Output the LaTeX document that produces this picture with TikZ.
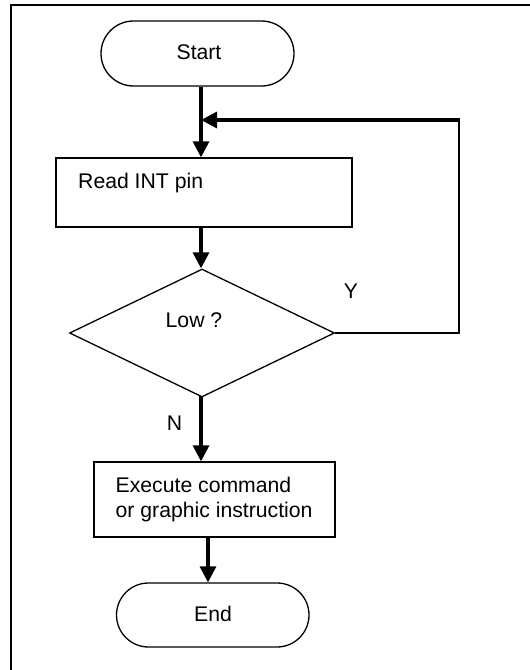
\documentclass[tikz,border=0pt]{standalone}
\usepackage{fontspec}
\setmainfont{Liberation Sans}
\usetikzlibrary{arrows.meta,shapes.geometric}

\begin{document}
\begin{tikzpicture}[x=1pt,y=-1pt,
  every node/.style={inner sep=0pt},
  boxline/.style={draw,line width=1.3pt},
  terminal/.style={boxline,rectangle},
  process/.style={boxline,rectangle},
  decision/.style={boxline,diamond},
  txt/.style={font=\fontsize{21.2}{24.7}\selectfont},
  flow/.style={line width=3.2pt,-{Triangle[width=16pt,length=16pt]}},
  thinline/.style={line width=1.4pt}]

\useasboundingbox (0,0) rectangle (530,670);

% page frame: left edge and top edge only
\draw[line width=2pt] (11,670) -- (11,5) -- (530,5);

% shapes
\node[terminal,minimum width=193pt,minimum height=65pt,rounded corners=32.5pt] (start) at (197.5,53.5) {};
\node[process,minimum width=296pt,minimum height=69pt] (read) at (204,192.5) {};
\node[decision,minimum width=265pt,minimum height=128pt] (dec) at (202,333) {};
\node[process,minimum width=241pt,minimum height=75pt] (exec) at (214.5,499.5) {};
\node[terminal,minimum width=192.5pt,minimum height=64pt,rounded corners=32pt] (end) at (212.75,615) {};

% texts
\node[txt,anchor=base] (starttxt) at (199,59) {Start};
\node[txt,anchor=base west] (readtxt) at (78,188) {Read INT pin};
\node[txt,anchor=base west] (lowtxt) at (165.5,327) {Low ?};
\node[txt,anchor=base] (ytxt) at (351,298) {Y};
\node[txt,anchor=base] (ntxt) at (174.5,430) {N};
\node[txt,anchor=base west] (exectxt1) at (115.5,492.3) {Execute command};
\node[txt,anchor=base west] (exectxt2) at (115.5,517) {or graphic instruction};
\node[txt,anchor=base] (endtxt) at (213,621) {End};

% guide coordinates for the vertical flow lines
\coordinate (spine) at (201,0);
\coordinate (spine2) at (208,0);
\coordinate (loopc) at (459,120);

% connectors
\draw[flow] (start.south -| spine) -- (read.north -| spine);
\draw[flow] (read.south -| spine) -- (dec.north -| spine);
\draw[flow] ([yshift=2pt]dec.south -| spine) -- (exec.north -| spine);
\draw[flow] (exec.south -| spine2) -- (end.north -| spine2);

% "Y" branch looping back above the read box
\draw[thinline] (dec.east) -| (loopc);
\draw[flow] ([xshift=0.7pt]loopc) -- (loopc -| spine);

\end{tikzpicture}
\end{document}
